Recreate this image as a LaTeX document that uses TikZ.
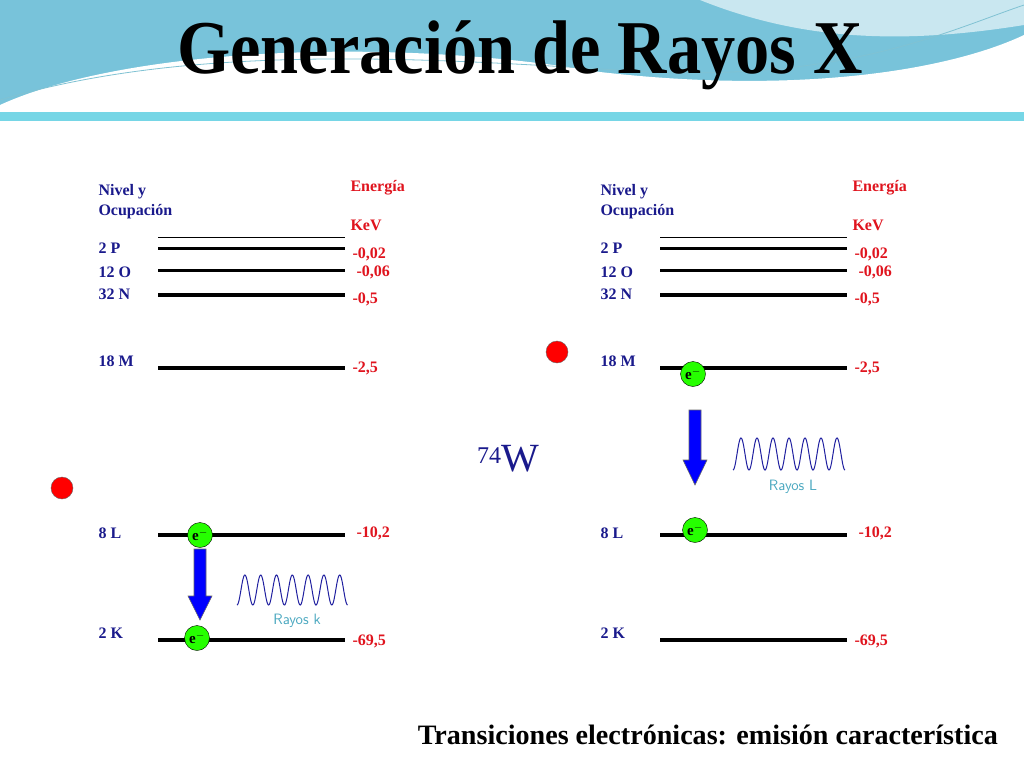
\documentclass[tikz,border=0pt]{standalone}
\usepackage{fontspec}
\setmainfont{Liberation Serif}
\usetikzlibrary{decorations.pathmorphing,arrows.meta}
\definecolor{navy}{HTML}{1A1A8C}
\definecolor{ered}{HTML}{E0141E}
\definecolor{skyb}{HTML}{78C3DA}
\definecolor{stripc}{HTML}{76D6E6}
\definecolor{teal}{HTML}{4AA8C0}
\definecolor{wave}{HTML}{2020A0}
\tikzset{
 lvl/.style={text=navy,font=\bfseries\fontsize{16}{18}\selectfont,anchor=west},
 en/.style={text=ered,font=\bfseries\fontsize{16}{18}\selectfont,anchor=west},
 elec/.style={circle,draw=black,fill=green!80!lime,minimum size=25pt,inner sep=0pt,font=\bfseries\fontsize{15}{15}\selectfont},
 hole/.style={circle,fill=red,draw=black!60,minimum size=22pt,inner sep=0pt},
 bar/.style={line width=4pt},
 trans/.style={draw=black!60,fill=blue,line width=0.6pt},
 wv/.style={wave,line width=1pt},
 raylab/.style={text=teal,font=\sffamily\fontsize{15}{17}\selectfont}
}
\begin{document}
\begin{tikzpicture}[x=1pt,y=-1pt]
\useasboundingbox (0,0) rectangle (1024,768);
\fill[white] (0,0) rectangle (1024,768);
% banner
\fill[skyb] (0,0) rectangle (1024,112);
\fill[skyb!40] (700,0) .. controls (800,40) and (900,45) .. (1024,25) -- (1024,0) -- cycle;
\fill[white] (0,112) -- (0,105) .. controls (120,50) and (380,35) .. (600,72) .. controls (800,95) and (950,70) .. (1024,35) -- (1024,112) -- cycle;
\draw[teal!70,line width=0.8pt] (0,100) .. controls (200,40) and (450,60) .. (650,72) .. controls (850,80) and (950,30) .. (1024,5);
\fill[stripc] (0,112) rectangle (1024,121);
\node (title) at (520,55) {\scalebox{0.9}[1]{\bfseries\fontsize{76}{78}\selectfont Generación de Rayos X}};
% panels
\foreach \o/\p in {0/a,502/b}{
 \begin{scope}[xshift=\o]
 \node[lvl,align=left] (niv\p) at (95,202) {Nivel y\\[2pt]Ocupación};
 \node[en] (ene\p) at (347,188) {Energía};
 \node[en] (kev\p) at (347,225) {KeV};
 \draw[line width=1pt] (158,237) -- (345,237);
 \draw[line width=3pt] (158,248) -- (345,248);
 \draw[line width=3pt] (158,270) -- (345,270);
 \draw[bar] (158,295) -- (345,295);
 \draw[bar] (158,368) -- (345,368);
 \draw[bar] (158,535) -- (345,535);
 \draw[bar] (158,640) -- (345,640);
 \node[lvl] (lP\p) at (95,248) {2 P};
 \node[lvl] (lO\p) at (95,272) {12 O};
 \node[lvl] (lN\p) at (95,294) {32 N};
 \node[lvl] (lM\p) at (95,361) {18 M};
 \node[lvl] (lL\p) at (95,533) {8 L};
 \node[lvl] (lK\p) at (95,633) {2 K};
 \node[en] (eP\p) at (349,254) {-0,02};
 \node[en] (eO\p) at (353,272) {-0,06};
 \node[en] (eN\p) at (349,299) {-0,5};
 \node[en] (eM\p) at (349,368) {-2,5};
 \node[en] (eL\p) at (353,533) {-10,2};
 \node[en] (eK\p) at (349,641) {-69,5};
 \end{scope}
}
% left panel electrons
\node[hole] (h1) at (62,488) {};
\node[elec] (e1) at (200,535) {e$^{\mathbf -}$};
\node[elec] (e2) at (197,638) {e$^{\mathbf -}$};
\draw[trans] (194,549) -- (206,549) -- (206,596) -- (212,596) -- (200,620) -- (188,596) -- (194,596) -- cycle;
\draw[wv,domain=0:7,samples=200,smooth] plot ({237+\x*15.8},{590-15*sin(\x*360-90)});
\node[raylab] (rk) at (297,621) {Rayos k};
% right panel
\node[hole] (h2) at (557,352) {};
\node[elec] (e3) at (693,374) {e$^{\mathbf -}$};
\node[elec] (e4) at (695,530) {e$^{\mathbf -}$};
\draw[trans] (689,410) -- (701,410) -- (701,460) -- (707,460) -- (695,485) -- (683,460) -- (689,460) -- cycle;
\draw[wv,domain=0:7,samples=200,smooth] plot ({733+\x*16},{454-16*sin(\x*360-90)});
\node[raylab] (rl) at (793,487) {Rayos L};
\node[text=navy] (w) at (508,459) {\fontsize{24}{24}\selectfont\raisebox{8pt}{74}\fontsize{40}{40}\selectfont W};
\node[anchor=east,inner sep=0pt] (foot) at (998,735) {\resizebox{580pt}{!}{\bfseries\fontsize{23}{26}\selectfont Transiciones electrónicas: emisión característica}};
\end{tikzpicture}
\end{document}
